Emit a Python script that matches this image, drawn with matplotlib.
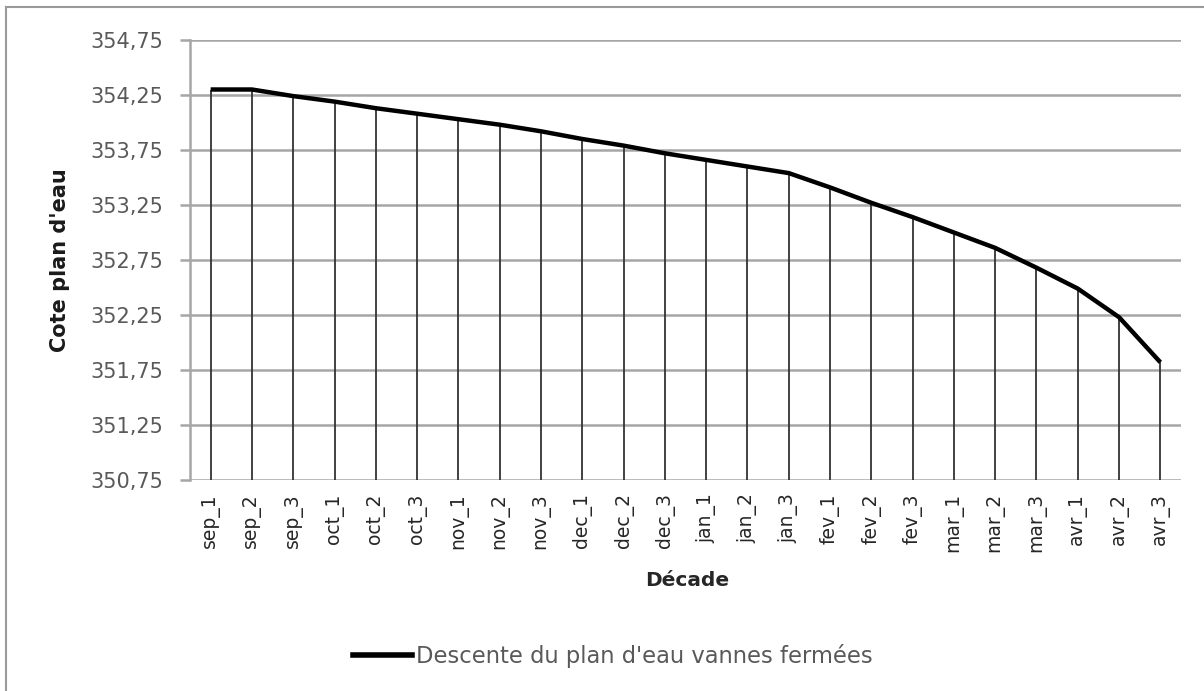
import matplotlib
matplotlib.use("Agg")
import matplotlib.pyplot as plt
import numpy as np
from matplotlib.lines import Line2D

# Décades de septembre à avril
decades = ["sep_1", "sep_2", "sep_3", "oct_1", "oct_2", "oct_3",
           "nov_1", "nov_2", "nov_3", "dec_1", "dec_2", "dec_3",
           "jan_1", "jan_2", "jan_3", "fev_1", "fev_2", "fev_3",
           "mar_1", "mar_2", "mar_3", "avr_1", "avr_2", "avr_3"]

# Cote du plan d'eau (m) en fin de décade, vannes fermées
cote = [354.30, 354.30, 354.24, 354.19, 354.13, 354.08,
        354.03, 353.98, 353.92, 353.85, 353.79, 353.72,
        353.66, 353.60, 353.54, 353.41, 353.27, 353.14,
        353.00, 352.86, 352.68, 352.49, 352.23, 351.82]

y_min, y_max, y_step = 350.75, 354.75, 0.5
serie_label = "Descente du plan d'eau vannes fermées"

W, H = 1204, 691
fig = plt.figure(figsize=(W / 100, H / 100), dpi=100)
fig.patch.set_facecolor("white")

# plot area in pixel coordinates
left, right, top, bottom = 190, 1181, 40, 480
ax = fig.add_axes([left / W, (H - bottom) / H, (right - left) / W, (bottom - top) / H])

grid_col = "#a6a6a6"
text_col = "#595959"

x = list(range(len(decades)))

# drop lines from each point down to the axis
ax.vlines(x, y_min, cote, colors="#333333", linewidth=1.3, zorder=2)
# main series
ax.plot(x, cote, color="black", linewidth=3.2, solid_joinstyle="round",
        solid_capstyle="butt", zorder=3, label=serie_label)

ax.set_xlim(-0.5, len(decades) - 0.5)
ax.set_ylim(y_min, y_max)
y_ticks = np.arange(y_min, y_max + y_step / 2, y_step)
ax.set_yticks(y_ticks)
ax.set_yticklabels([f"{v:.2f}".replace(".", ",") for v in y_ticks])
ax.grid(axis="y", color=grid_col, linewidth=1.8, zorder=1)
ax.set_axisbelow(True)

for s in ("top", "right", "bottom"):
    ax.spines[s].set_visible(False)
ax.spines["left"].set_color(grid_col)
ax.spines["left"].set_linewidth(1.8)

ax.tick_params(axis="y", direction="out", length=7.2, width=1.8, color=grid_col,
               labelsize=15, labelcolor=text_col, pad=12)
ax.set_xticks(x)
ax.set_xticklabels(decades, rotation=90, fontsize=13.5, color="#262626")
ax.tick_params(axis="x", length=0, pad=9.5)

# axis titles
fig.text(60 / W, 1 - 260 / H, "Cote plan d'eau", rotation=90, ha="center", va="center",
         fontsize=15, fontweight="bold", color="#1a1a1a")
fig.text(687 / W, 1 - 581 / H, "Décade", ha="center", va="center",
         fontsize=14.5, fontweight="bold", color="#262626")

# legend below the chart
fig.legend(handles=[Line2D([], [], color="black", linewidth=4)], labels=[serie_label],
           loc="center left", bbox_to_anchor=(353 / W, 1 - 656 / H),
           bbox_transform=fig.transFigure, frameon=False, fontsize=16.3,
           handlelength=2.6, handletextpad=0.2, borderpad=0, borderaxespad=0,
           labelcolor=text_col)

# chart frame (top and left edges)
fig.add_artist(Line2D([6 / W, 6 / W], [0, 1 - 7 / H], transform=fig.transFigure,
                      color="#9a9a9a", linewidth=1.5))
fig.add_artist(Line2D([6 / W, 1], [1 - 7 / H, 1 - 7 / H], transform=fig.transFigure,
                      color="#9a9a9a", linewidth=1.5))

fig.savefig("out.png", dpi=100, facecolor="white")
